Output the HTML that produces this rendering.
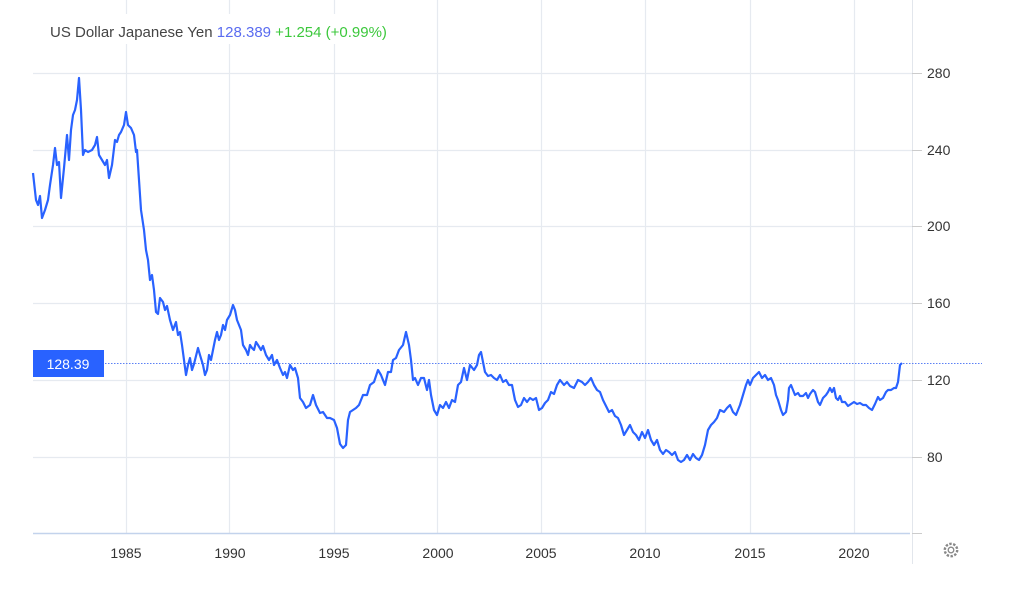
<!DOCTYPE html>
<html><head><style>
body{margin:0;background:#fff;width:1024px;height:599px;overflow:hidden;font-family:"Liberation Sans",sans-serif}
</style></head><body>
<svg width="1024" height="599" xmlns="http://www.w3.org/2000/svg" font-family="Liberation Sans, sans-serif">
<g stroke="#e6eaf0" stroke-width="1.2">
<line x1="33" y1="73.5" x2="912" y2="73.5"/><line x1="33" y1="150.5" x2="912" y2="150.5"/><line x1="33" y1="226.5" x2="912" y2="226.5"/><line x1="33" y1="303.5" x2="912" y2="303.5"/><line x1="33" y1="380.5" x2="912" y2="380.5"/><line x1="33" y1="457.5" x2="912" y2="457.5"/>
<line x1="126.5" y1="0" x2="126.5" y2="533"/><line x1="229.5" y1="0" x2="229.5" y2="533"/><line x1="334.5" y1="0" x2="334.5" y2="533"/><line x1="437.5" y1="0" x2="437.5" y2="533"/><line x1="541.5" y1="0" x2="541.5" y2="533"/><line x1="645.5" y1="0" x2="645.5" y2="533"/><line x1="750.5" y1="0" x2="750.5" y2="533"/><line x1="854.5" y1="0" x2="854.5" y2="533"/>
</g>
<rect x="36" y="14" width="400" height="30" fill="#fff"/>
<line x1="912.5" y1="0" x2="912.5" y2="564" stroke="#e2e6ec"/>
<line x1="33" y1="533.5" x2="910" y2="533.5" stroke="#c3d3ec" stroke-width="1.5"/>
<g stroke="#ccc"><line x1="912" y1="73.5" x2="922" y2="73.5"/><line x1="912" y1="150.5" x2="922" y2="150.5"/><line x1="912" y1="226.5" x2="922" y2="226.5"/><line x1="912" y1="303.5" x2="922" y2="303.5"/><line x1="912" y1="380.5" x2="922" y2="380.5"/><line x1="912" y1="457.5" x2="922" y2="457.5"/><line x1="912" y1="533.5" x2="922" y2="533.5"/></g>
<g font-size="14" fill="#333">
<text x="927" y="78">280</text><text x="927" y="155">240</text><text x="927" y="231">200</text><text x="927" y="308">160</text><text x="927" y="385">120</text><text x="927" y="462">80</text>
<g text-anchor="middle"><text x="126" y="558">1985</text><text x="230" y="558">1990</text><text x="334" y="558">1995</text><text x="438" y="558">2000</text><text x="541" y="558">2005</text><text x="645" y="558">2010</text><text x="750" y="558">2015</text><text x="854" y="558">2020</text></g>
</g>
<text x="50" y="37" font-size="15"><tspan fill="#444">US Dollar Japanese Yen </tspan><tspan fill="#5a6cf0">128.389</tspan><tspan fill="#3cc83c">  +1.254 (+0.99%)</tspan></text>
<line x1="33" y1="363.5" x2="982" y2="363.5" stroke="#5b80f5" stroke-width="1" stroke-dasharray="1.5,1.5"/>
<rect x="33" y="350" width="71" height="27" fill="#2962ff"/>
<text x="68" y="369" font-size="14" fill="#fff" text-anchor="middle">128.39</text>
<polyline fill="none" stroke="#2962ff" stroke-width="2.2" stroke-linejoin="round" points="33,173 36,200 38,205 40,196 42,218 45,210 48,200 50,185 53,165 55,148 57,165 59,162 61,198 64,168 67,135 69,160 71,130 73,115 75,110 77,100 79,78 81,110 83,155 85,150 88,152 92,150 95,145 97,137 99,155 102,160 105,165 107,160 109,178 112,165 115,140 117,142 119,135 121,132 124,125 126,112 128,125 131,128 134,135 136,152 137,150 139,180 141,210 144,230 146,250 148,260 150,280 152,275 154,290 156,312 158,314 160,298 163,302 165,310 167,306 170,320 173,330 176,322 178,335 180,332 182,345 184,360 186,375 188,365 190,358 192,370 194,364 196,356 198,348 200,355 203,365 205,375 207,370 209,355 211,360 213,350 215,340 217,332 219,340 221,335 223,325 225,330 227,320 230,315 233,305 235,310 237,320 239,325 241,330 243,345 246,350 248,355 250,345 252,348 254,350 256,342 258,345 261,350 263,346 266,355 269,360 272,355 274,365 277,360 280,368 283,375 285,372 287,378 290,365 293,370 295,368 298,378 300,398 303,402 306,408 310,405 313,395 316,405 320,413 323,412 327,418 330,418 334,420 337,428 340,444 343,448 346,445 348,420 350,412 353,410 356,408 359,405 363,395 367,395 370,385 374,382 378,370 381,375 385,385 388,372 391,372 393,360 396,358 399,350 403,345 406,332 409,345 411,360 413,380 415,378 418,385 421,378 424,378 427,390 429,380 431,395 434,410 437,415 440,405 443,408 446,402 449,408 452,400 455,402 458,385 461,382 464,368 467,380 470,365 474,370 477,365 479,355 481,352 483,362 485,372 488,376 491,375 494,378 497,380 500,375 503,382 506,380 509,385 512,385 515,400 518,407 521,405 524,398 527,402 530,398 533,400 536,398 539,410 542,408 545,403 548,400 551,392 554,394 557,385 560,380 564,385 567,382 570,386 574,388 578,380 582,382 585,385 588,382 591,378 594,385 597,390 600,392 603,400 606,406 609,412 612,410 615,416 618,418 621,425 624,435 627,430 630,425 633,432 636,435 639,440 642,432 645,438 648,430 651,440 654,445 657,440 660,450 663,454 666,450 669,452 672,455 675,452 678,460 681,462 684,460 687,455 690,460 693,454 696,458 699,460 702,455 705,445 708,430 711,425 714,422 717,418 720,410 724,412 727,408 730,405 733,412 736,415 740,405 743,395 746,385 748,380 750,385 753,378 756,375 759,372 762,378 765,375 768,380 771,378 774,385 776,395 778,400 781,410 783,415 786,412 788,400 789,388 791,385 793,390 795,395 798,393 800,396 803,396 806,393 808,398 810,394 813,390 815,392 818,402 820,405 823,398 826,395 828,392 830,388 832,392 834,388 836,398 838,400 840,396 842,402 845,402 848,406 851,404 854,402 857,404 860,403 863,405 866,405 869,408 872,410 875,404 878,397 880,400 883,398 886,392 888,390 891,390 894,388 896,388 898,382 900,365 902,363"/>
<g transform="translate(951,550)" fill="none" stroke="#888" stroke-width="1.3">
<circle r="2.8"/><circle r="6.2" stroke-dasharray="2.4,1.5" stroke-width="2.4"/>
</g>
</svg>
</body></html>
